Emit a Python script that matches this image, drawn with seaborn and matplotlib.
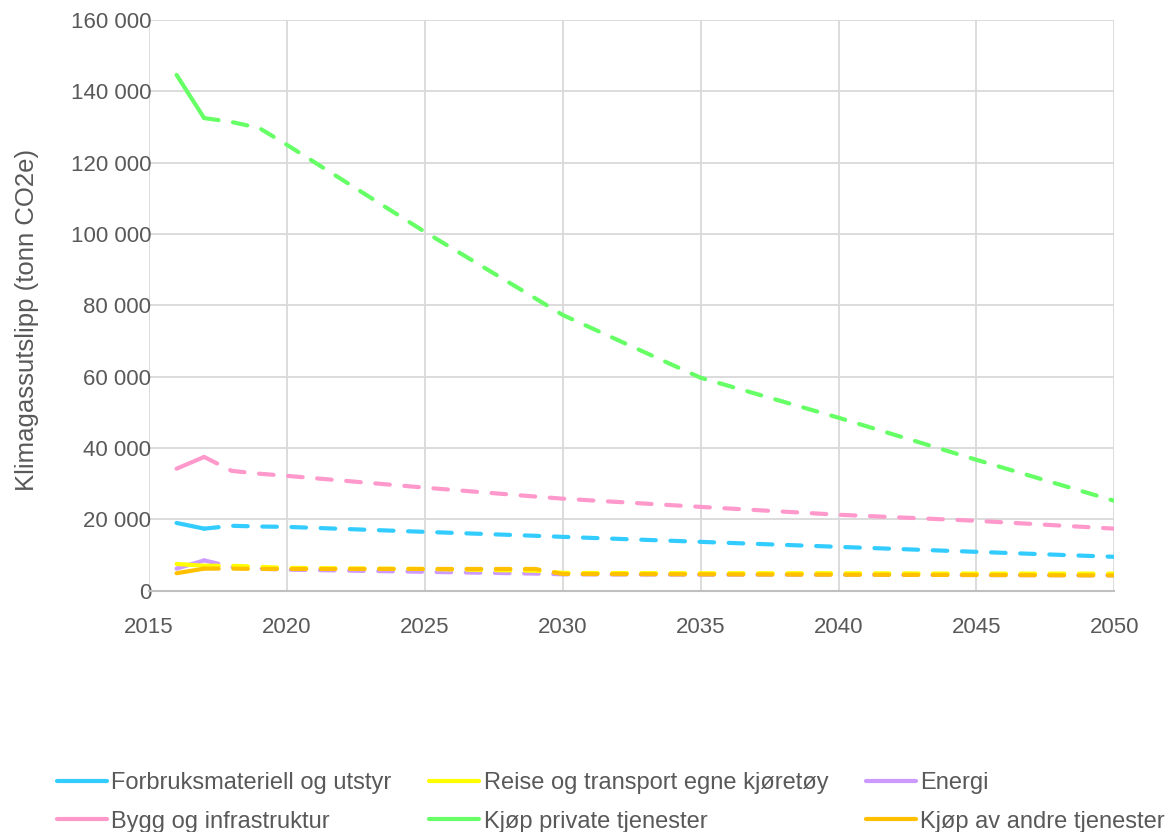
import pandas as pd
import matplotlib.pyplot as plt
import matplotlib.ticker as mticker
from matplotlib.lines import Line2D
import seaborn as sns

# data (tonn CO2e)
hist_years = [2016, 2017]
proj_years = [2017, 2018, 2019, 2020, 2025, 2029, 2030, 2035, 2040, 2045, 2050]

forbruk_hist = [19000, 17400]
forbruk_proj = [17400, 18200, 18000, 17900, 16500, 15400, 15100, 13700, 12300, 10900, 9500]

reise_hist = [7500, 7000]
reise_proj = [7000, 7000, 6700, 6400, 6100, 5600, 5000, 4900, 4900, 4800, 4800]

energi_hist = [6200, 8500]
energi_proj = [8500, 6700, 6200, 5900, 5300, 4800, 4600, 4500, 4500, 4400, 4300]

bygg_hist = [34200, 37500]
bygg_proj = [37500, 33600, 32800, 32200, 28900, 26400, 25800, 23500, 21300, 19600, 17400]

privat_hist = [144600, 132500]
privat_proj = [132500, 131400, 129700, 125000, 100600, 82000, 77300, 59700, 48500, 36700, 25200]

andre_hist = [4900, 6200]
andre_proj = [6200, 6200, 6100, 6100, 6100, 6100, 4700, 4600, 4500, 4400, 4300]

names = ['Forbruksmateriell og utstyr', 'Reise og transport egne kjøretøy', 'Energi',
         'Bygg og infrastruktur', 'Kjøp private tjenester', 'Kjøp av andre tjenester']
colors = ['#33CCFF', '#FFFF00', '#CC99FF', '#FF99CC', '#66FF66', '#FFC000']
hist_vals = [forbruk_hist, reise_hist, energi_hist, bygg_hist, privat_hist, andre_hist]
proj_vals = [forbruk_proj, reise_proj, energi_proj, bygg_proj, privat_proj, andre_proj]

rows = []
for name, h, p in zip(names, hist_vals, proj_vals):
    for y, v in zip(hist_years, h):
        rows.append({'year': y, 'value': v, 'serie': name, 'type': 'hist'})
    for y, v in zip(proj_years, p):
        rows.append({'year': y, 'value': v, 'serie': name, 'type': 'proj'})
df = pd.DataFrame(rows)

sns.set_style('white')
plt.rcParams['font.family'] = ['Liberation Sans', 'DejaVu Sans']
plt.rcParams['lines.dash_capstyle'] = 'round'
plt.rcParams['lines.solid_capstyle'] = 'round'
grey = '#595959'

fig = plt.figure(figsize=(11.73, 8.32), dpi=100)
ax = fig.add_axes([0.127, 0.290, 0.823, 0.686])

# green first so the lower series sit on top
order = ['Kjøp private tjenester', 'Bygg og infrastruktur', 'Forbruksmateriell og utstyr',
         'Energi', 'Reise og transport egne kjøretøy', 'Kjøp av andre tjenester']
sns.lineplot(data=df, x='year', y='value', hue='serie', hue_order=order,
             palette=dict(zip(names, colors)), style='type',
             dashes={'hist': '', 'proj': (3.5, 3.5)}, linewidth=3,
             legend=False, ax=ax, sort=False)

ax.set_xlim(2015, 2050)
ax.set_ylim(0, 160000)
ax.set_xticks(range(2015, 2051, 5))
ax.set_yticks(range(0, 160001, 20000))
ax.yaxis.set_major_formatter(mticker.FuncFormatter(lambda v, p: f'{int(v):,}'.replace(',', ' ')))
ax.grid(True, color='#d9d9d9', linewidth=1.3)
ax.set_axisbelow(True)
for s in ['top', 'right', 'left']:
    ax.spines[s].set_visible(False)
ax.spines['bottom'].set_color('#bfbfbf')
ax.spines['bottom'].set_linewidth(1.5)
ax.tick_params(axis='both', length=0, labelsize=16, colors=grey)
ax.tick_params(axis='x', pad=19)
ax.tick_params(axis='y', pad=-1.5)
ax.set_xlabel('')
ax.set_ylabel('Klimagassutslipp (tonn CO2e)', fontsize=18.5, color=grey)
ax.yaxis.set_label_coords(-0.114, 0.475)

# legend: matplotlib fills column-wise
leg_order = [0, 3, 1, 4, 2, 5]
handles = [Line2D([0], [0], color=colors[i], linewidth=3) for i in leg_order]
labels = [names[i] for i in leg_order]
fig.legend(handles, labels, loc='center', bbox_to_anchor=(0.521, 0.0355), ncol=3,
           frameon=False, fontsize=17, labelcolor=grey, handlelength=2.1,
           handletextpad=0.2, columnspacing=1.6, labelspacing=0.7,
           borderpad=0, borderaxespad=0)

fig.savefig('out.png', dpi=100)
